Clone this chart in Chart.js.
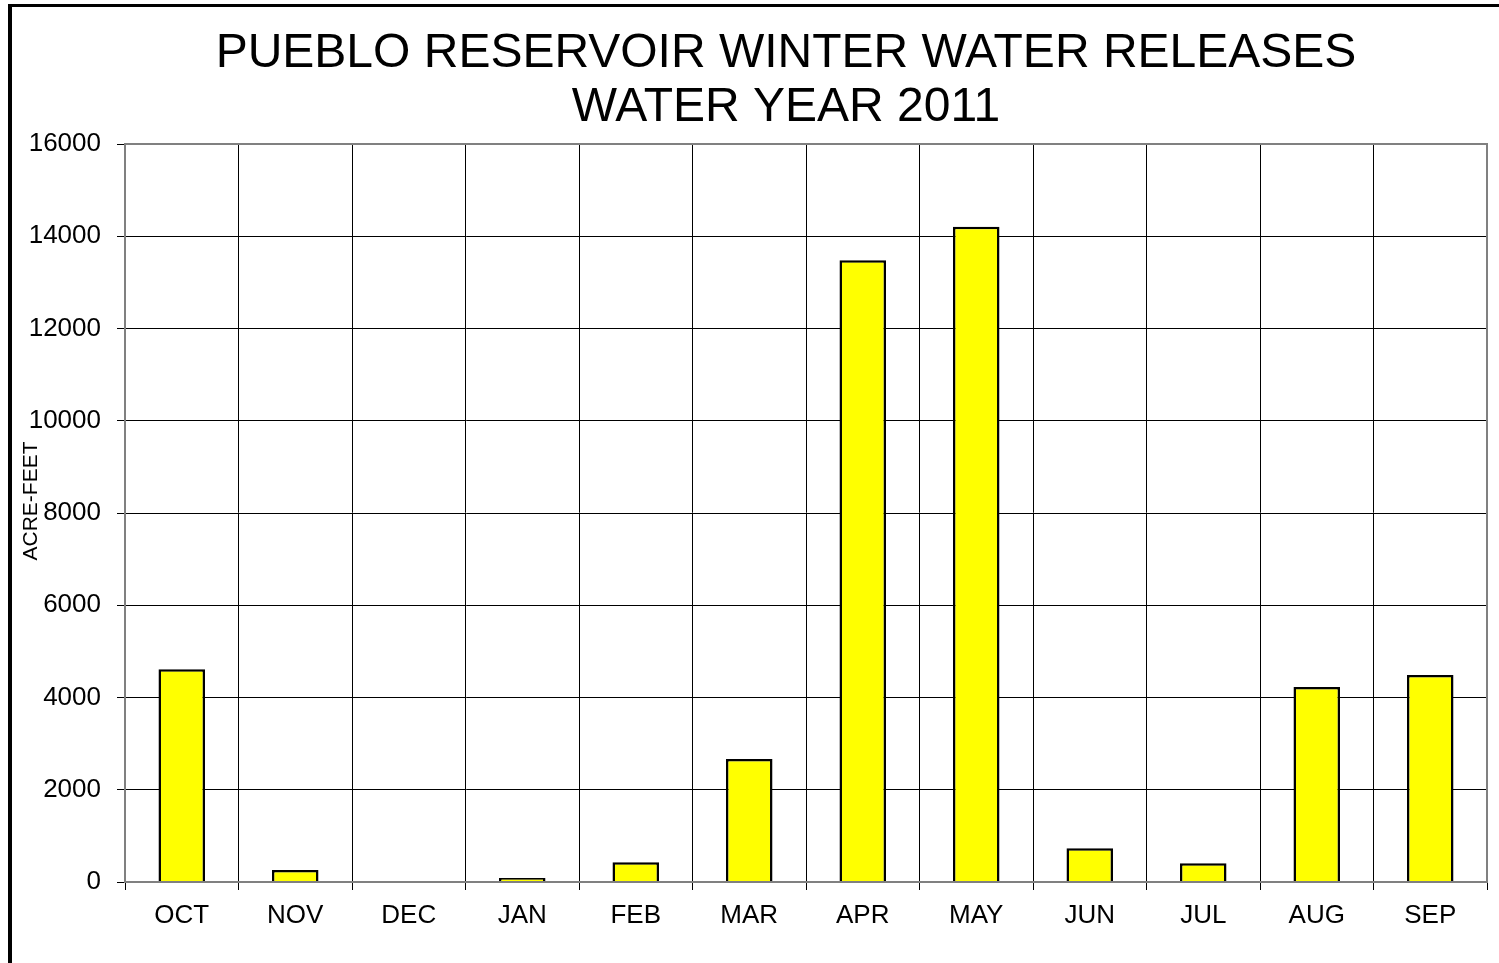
<!DOCTYPE html>
<html>
<head>
<meta charset="utf-8">
<script src="https://cdn.jsdelivr.net/npm/chart.js@4/dist/chart.umd.min.js"></script>
<style>
    html, body { margin: 0; padding: 0; background: #fff; }
    #wrap { width: 1499px; height: 963px; position: relative; }
</style>
</head>
<body>
<div id="wrap"><canvas id="chart" width="1499" height="963"></canvas></div>
<script>
const months = ["OCT", "NOV", "DEC", "JAN", "FEB", "MAR", "APR", "MAY", "JUN", "JUL", "AUG", "SEP"];
const releases = [4610, 260, 0, 85, 430, 2665, 13480, 14205, 730, 405, 4225, 4490];
const titleLines = ["PUEBLO RESERVOIR WINTER WATER RELEASES", "WATER YEAR 2011"];
const yTitle = "ACRE-FEET";

const FONT = "'Liberation Sans', Arial, sans-serif";

// frame, titles and the grey plot border
const decorations = {
    id: "decorations",
    beforeDraw(chart) {
        const ctx = chart.ctx;
        ctx.save();
        ctx.fillStyle = "#fff";
        ctx.fillRect(0, 0, chart.width, chart.height);
        ctx.fillStyle = "#000";
        ctx.fillRect(8, 4, chart.width - 8, 3);
        ctx.fillRect(8, 4, 4, chart.height - 4);
        ctx.restore();
    },
    afterDraw(chart) {
        const ctx = chart.ctx;
        const a = chart.chartArea;
        ctx.save();
        ctx.strokeStyle = "#808080";
        ctx.lineWidth = 2;
        ctx.strokeRect(a.left, a.top, a.right - a.left, a.bottom - a.top);

        ctx.fillStyle = "#000";
        ctx.font = "48px " + FONT;
        ctx.textAlign = "center";
        ctx.textBaseline = "alphabetic";
        ctx.fillText(titleLines[0], 786, 67);
        ctx.fillText(titleLines[1], 786, 121);

        ctx.font = "21px " + FONT;
        ctx.translate(37, 501);
        ctx.rotate(-Math.PI / 2);
        ctx.fillText(yTitle, 0, 0);
        ctx.restore();
    }
};

new Chart(document.getElementById("chart"), {
    type: "bar",
    data: {
        labels: months,
        datasets: [{
            data: releases,
            backgroundColor: "#ffff00",
            borderColor: "#000",
            borderWidth: 2.5,
            barPercentage: 0.41,
            categoryPercentage: 1.0
        }]
    },
    options: {
        responsive: false,
        animation: false,
        layout: { padding: { top: 144, right: 12, left: 0, bottom: 0 } },
        plugins: {
            legend: { display: false },
            tooltip: { enabled: false }
        },
        scales: {
            x: {
                grid: { color: "#000", lineWidth: 1, tickLength: 8, offset: true },
                border: { color: "#808080", width: 2 },
                ticks: { color: "#000", font: { family: FONT, size: 26 }, padding: 10, maxRotation: 0 },
                afterFit(scale) { scale.height = 963 - 882; }
            },
            y: {
                min: 0,
                max: 16000,
                grid: { color: "#000", lineWidth: 1, tickLength: 8 },
                border: { color: "#808080", width: 2 },
                ticks: {
                    stepSize: 2000,
                    color: "#000",
                    font: { family: FONT, size: 26 },
                    padding: 16,
                    callback: (v) => String(v)
                },
                afterFit(scale) { scale.width = 125; }
            }
        }
    },
    plugins: [decorations]
});
</script>
</body>
</html>
